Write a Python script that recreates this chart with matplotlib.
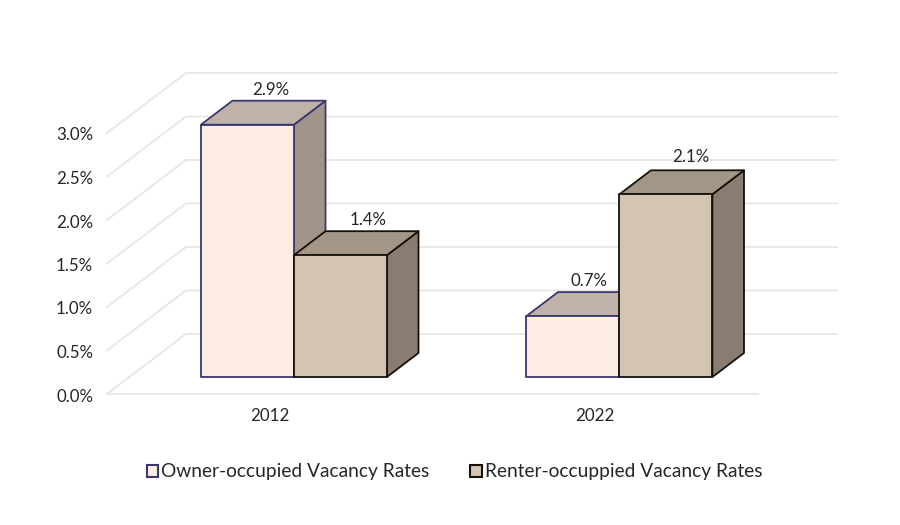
import matplotlib
matplotlib.use("Agg")
import matplotlib.pyplot as plt
from matplotlib.patches import Polygon, Patch

## Data
years = ["2012", "2022"]
owner = [2.9, 0.7]
renter = [1.4, 2.1]
yticks = [0.0, 0.5, 1.0, 1.5, 2.0, 2.5, 3.0]
owner_name = "Owner-occupied Vacancy Rates"
renter_name = "Renter-occuppied Vacancy Rates"

plt.rcParams["font.family"] = ["Lato", "DejaVu Sans"]

## Oblique projection, depth z runs 0 (front) to 1 (back wall)
DX = 0.2427
DY = 0.69


def proj(x, y, z):
    return (x + z * DX, y + z * DY)


fig = plt.figure(figsize=(9, 5.25), dpi=100)
ax = fig.add_axes([107 / 900, 1 - 394 / 525, 651 / 900, 261 / 525])
ax.set_xlim(0, 2)
ax.set_ylim(0, 3)
ax.axis("off")

# Walls and floor
grid = "#E6E6E6"
ax.plot(*zip(proj(0, 0, 0), proj(2, 0, 0)), color=grid, lw=1.3, clip_on=False, zorder=1)
for v in yticks:
    ax.plot(*zip(proj(0, v, 0), proj(0, v, 1), proj(2, v, 1)), color=grid, lw=1.3,
            clip_on=False, zorder=1)
    ax.annotate("%.1f%%" % v, (0, v), xytext=(-10, -1.8), textcoords="offset points",
                ha="right", va="center", fontsize=12.2, color="#262626", annotation_clip=False)

for i, y in enumerate(years):
    ax.annotate(y, (i + 0.5, 0), xytext=(0, -16), textcoords="offset points",
                ha="center", va="center", fontsize=12.2, color="#262626", annotation_clip=False)


## Bars
def box(x0, x1, val, front, top, side, edge):
    z0, z1 = 0.283, 0.683
    faces = [
        ([proj(x1, 0, z0), proj(x1, 0, z1), proj(x1, val, z1), proj(x1, val, z0)], side),
        ([proj(x0, val, z0), proj(x1, val, z0), proj(x1, val, z1), proj(x0, val, z1)], top),
        ([proj(x0, 0, z0), proj(x1, 0, z0), proj(x1, val, z0), proj(x0, val, z0)], front),
    ]
    for pts, col in faces:
        ax.add_patch(Polygon(pts, closed=True, facecolor=col, edgecolor=edge, lw=1.3,
                             joinstyle="round", clip_on=False, zorder=box.z))
    box.z += 1


box.z = 3
w = 0.2857
for i in range(2):
    c = i + 0.5055
    box(c - w, c, owner[i], "#FEEDE2", "#C1B2A9", "#A1958A", "#3A3870")
    box(c, c + w, renter[i], "#D4C4B2", "#A39686", "#887D70", "#17110A")

# Value labels
label_dx = [-6, -3, -11.5, -5]
label_dy = [8, 8, 8, 9.5]
for k, (i, val, c) in enumerate([(0, owner[0], -w / 2), (0, renter[0], w / 2),
                                 (1, owner[1], -w / 2), (1, renter[1], w / 2)]):
    ax.annotate("%.1f%%" % val, proj(i + 0.5055 + c, val, 0.683),
                xytext=(label_dx[k], label_dy[k]), textcoords="offset points",
                ha="center", va="center", fontsize=12.2, color="#262626", zorder=20,
                annotation_clip=False)

# Legend
handles = [Patch(facecolor="#FEEDE2", edgecolor="#3A3870", lw=1.5),
           Patch(facecolor="#D4C4B2", edgecolor="#17110A", lw=1.5)]
fig.legend(handles, [owner_name, renter_name], ncol=2, loc="center",
           bbox_to_anchor=(454.5 / 900, 1 - 472 / 525), frameon=False, fontsize=13.8,
           handlelength=0.6, handleheight=0.6, handletextpad=0.15, columnspacing=2.14,
           labelcolor="#262626")

fig.savefig("out.png", dpi=100, facecolor="white")
